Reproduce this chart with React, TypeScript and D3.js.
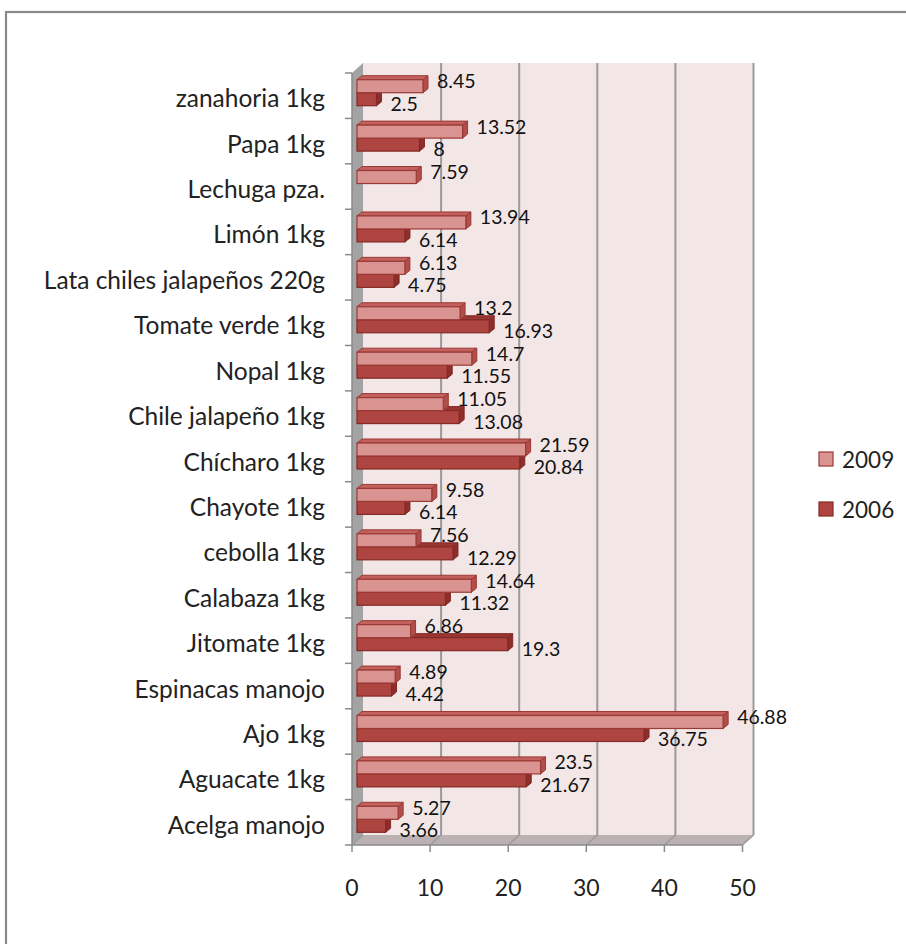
import React from "react";
import * as d3 from "d3";

const categories = [
  "zanahoria 1kg",
  "Papa 1kg",
  "Lechuga pza.",
  "Limón 1kg",
  "Lata chiles jalapeños 220g",
  "Tomate verde 1kg",
  "Nopal 1kg",
  "Chile jalapeño 1kg",
  "Chícharo 1kg",
  "Chayote 1kg",
  "cebolla 1kg",
  "Calabaza 1kg",
  "Jitomate 1kg",
  "Espinacas manojo",
  "Ajo 1kg",
  "Aguacate 1kg",
  "Acelga manojo",
];
const values2009: (number | null)[] = [8.45, 13.52, 7.59, 13.94, 6.13, 13.2, 14.7, 11.05, 21.59, 9.58, 7.56, 14.64, 6.86, 4.89, 46.88, 23.5, 5.27];
const values2006: (number | null)[] = [2.5, 8, null, 6.14, 4.75, 16.93, 11.55, 13.08, 20.84, 6.14, 12.29, 11.32, 19.3, 4.42, 36.75, 21.67, 3.66];
const xTicks = [0, 10, 20, 30, 40, 50];
const seriesNames = ["2009", "2006"];

const W = 906;
const H = 944;
const FONT = "Lato, 'Open Sans', sans-serif";

const DX = 11; // depth offset of back wall
const DY = -10;
const BDX = 5; // bar front face offset
const EX = 5; // bar extrusion
const EY = -4;
const BAR_H = 13;

const colors = {
  s2009: { front: "#d99391", top: "#c2615d", side: "#b14e4a", stroke: "#9b3935" },
  s2006: { front: "#ae4540", top: "#9a3632", side: "#8c2e2a", stroke: "#842925" },
};

export default function App() {
  const x = d3.scaleLinear().domain([0, 50]).range([352, 742.5]);
  const y = d3.scaleBand<string>().domain(categories).range([73, 845]);
  const bw = y.bandwidth();
  const x0 = x(0);
  const x50 = x(50);
  const yTop = y.range()[0];
  const yBot = y.range()[1];

  const bar = (v: number, top: number, c: typeof colors.s2009, key: string) => {
    const l = x0 + BDX;
    const r = x(v) + BDX;
    const b = top + BAR_H;
    return (
      <g key={key}>
        <polygon
          points={`${l},${top} ${r},${top} ${r + EX},${top + EY} ${l + EX},${top + EY}`}
          fill={c.top}
          stroke={c.stroke}
          strokeWidth={1}
          strokeLinejoin="round"
        />
        <polygon
          points={`${r},${top} ${r + EX},${top + EY} ${r + EX},${b + EY} ${r},${b}`}
          fill={c.side}
          stroke={c.stroke}
          strokeWidth={1}
          strokeLinejoin="round"
        />
        <rect x={l} y={top} width={r - l} height={BAR_H} fill={c.front} stroke={c.stroke} strokeWidth={1.2} />
      </g>
    );
  };

  return (
    <svg width={W} height={H} style={{ position: "absolute", left: 0, top: 0, background: "#fff" }}>
      <rect x={6} y={12} width={W + 20} height={H + 20} fill="#fff" stroke="#8a8a8a" strokeWidth={2.2} />

      {/* back wall */}
      <rect x={x0 + DX} y={yTop + DY} width={x50 - x0} height={yBot - yTop} fill="#f3e6e6" />
      {/* left wall */}
      <polygon
        points={`${x0},${yTop} ${x0 + DX},${yTop + DY} ${x0 + DX},${yBot + DY} ${x0},${yBot}`}
        fill="#a3a3a3"
      />
      {/* floor */}
      <polygon
        points={`${x0},${yBot} ${x50},${yBot} ${x50 + DX},${yBot + DY} ${x0 + DX},${yBot + DY}`}
        fill="#bcb1b2"
      />
      {/* gridlines */}
      {xTicks.map((t) => (
        <g key={"g" + t}>
          {t > 0 && (
            <line x1={x(t) + DX} x2={x(t) + DX} y1={yTop + DY} y2={yBot + DY} stroke="#9a9a9a" strokeWidth={2} />
          )}
          <line x1={x(t) + DX} x2={x(t)} y1={yBot + DY} y2={yBot} stroke="#9a9a9a" strokeWidth={1.5} />
        </g>
      ))}
      {/* axis lines */}
      <line x1={x0} x2={x0} y1={yTop} y2={yBot} stroke="#8a8a8a" strokeWidth={1.5} />
      <line x1={x0} x2={x50} y1={yBot} y2={yBot} stroke="#8a8a8a" strokeWidth={1.5} />
      {/* y ticks */}
      {categories.map((c, i) => (
        <line key={"yt" + i} x1={x0 - 7} x2={x0} y1={y(c)!} y2={y(c)!} stroke="#8a8a8a" strokeWidth={1.5} />
      ))}
      <line x1={x0 - 7} x2={x0} y1={yBot} y2={yBot} stroke="#8a8a8a" strokeWidth={1.5} />
      {/* x ticks */}
      {xTicks.map((t) => (
        <g key={"xt" + t}>
          <line x1={x(t)} x2={x(t)} y1={yBot} y2={yBot + 7} stroke="#8a8a8a" strokeWidth={1.5} />
          <text x={x(t)} y={887} textAnchor="middle" dominantBaseline="central" fontFamily={FONT} fontSize={23} fill="#222">
            {t}
          </text>
        </g>
      ))}

      {/* bars */}
      {categories.map((c, i) => {
        const center = y(c)! + bw / 2 - 3;
        const v9 = values2009[i];
        const v6 = values2006[i];
        return (
          <g key={"b" + i}>
            {v6 != null && bar(v6, center, colors.s2006, "a")}
            {v9 != null && bar(v9, center - BAR_H, colors.s2009, "b")}
          </g>
        );
      })}

      {/* data labels */}
      {categories.map((c, i) => {
        const center = y(c)! + bw / 2 - 3;
        const v9 = values2009[i];
        const v6 = values2006[i];
        return (
          <g key={"l" + i} fontFamily={FONT} fontSize={19.5} fill="#111">
            {v9 != null && (
              <text x={x(v9) + BDX + 14} y={center - 12} dominantBaseline="central">
                {String(v9)}
              </text>
            )}
            {v6 != null && (
              <text x={x(v6) + BDX + 14} y={center + 10.5} dominantBaseline="central">
                {String(v6)}
              </text>
            )}
          </g>
        );
      })}

      {/* category labels */}
      {categories.map((c) => (
        <text
          key={"c" + c}
          x={325}
          y={y(c)! + bw / 2 + 2}
          textAnchor="end"
          dominantBaseline="central"
          fontFamily={FONT}
          fontSize={24.5}
          fill="#222"
        >
          {c}
        </text>
      ))}

      {/* legend */}
      {seriesNames.map((s, i) => {
        const cy = 459 + i * 50;
        const col = i === 0 ? colors.s2009 : colors.s2006;
        return (
          <g key={"lg" + s}>
            <rect x={819} y={cy - 7} width={14} height={14} fill={col.front} stroke={col.stroke} strokeWidth={1.2} />
            <text x={842} y={cy} dominantBaseline="central" fontFamily={FONT} fontSize={22.5} fill="#222">
              {s}
            </text>
          </g>
        );
      })}
    </svg>
  );
}
